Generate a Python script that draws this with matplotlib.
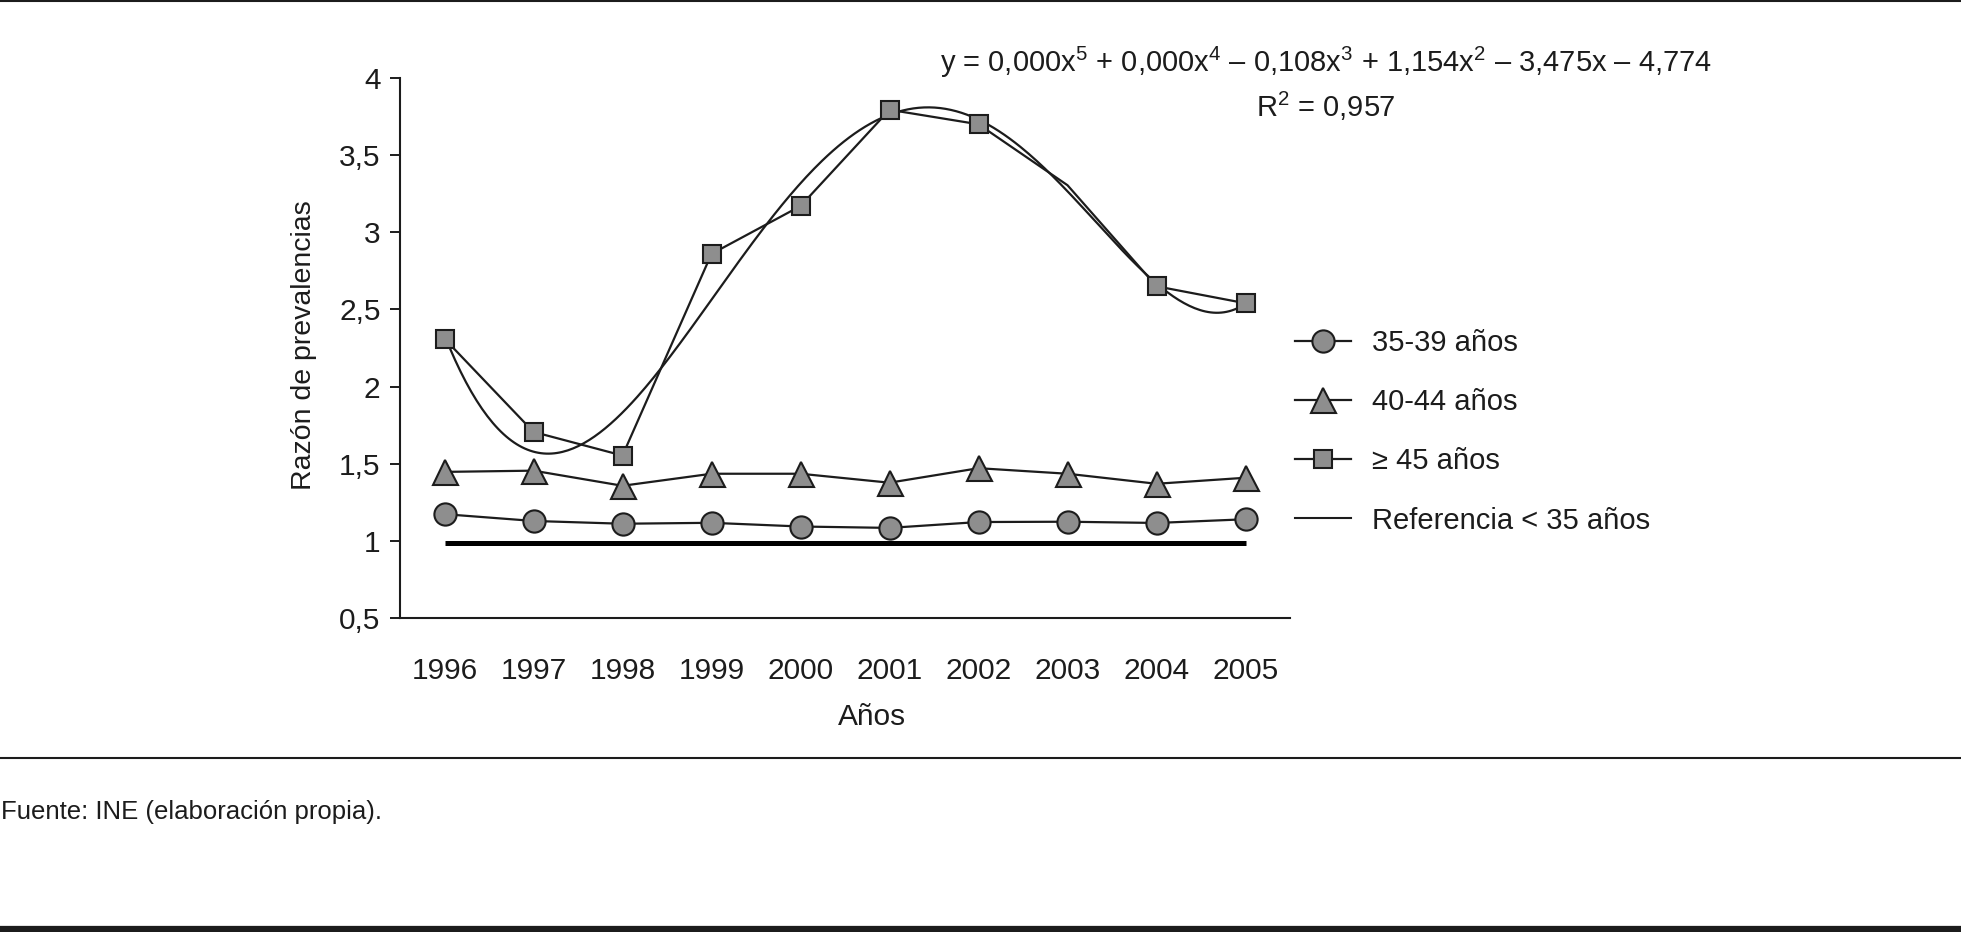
import numpy as np
import matplotlib
matplotlib.use("Agg")
import matplotlib.pyplot as plt
from matplotlib.lines import Line2D

# ---- data ----
years = ["1996", "1997", "1998", "1999", "2000", "2001", "2002", "2003", "2004", "2005"]
r35_39 = [1.173, 1.129, 1.111, 1.117, 1.093, 1.084, 1.122, 1.124, 1.116, 1.140]
r40_44 = [1.447, 1.455, 1.357, 1.435, 1.435, 1.377, 1.471, 1.435, 1.370, 1.409]
r45 = [2.31, 1.706, 1.553, 2.86, 3.17, 3.794, 3.70, 3.305, 2.65, 2.54]
ref_value = [0.985] * 10
yticks = [0.5, 1, 1.5, 2, 2.5, 3, 3.5, 4]
ytick_labels = ["0,5", "1", "1,5", "2", "2,5", "3", "3,5", "4"]
legend_labels = ["35-39 años", "40-44 años", "\u2265 45 años", "Referencia < 35 años"]

FAM = ["Liberation Sans", "DejaVu Sans"]
plt.rcParams["font.family"] = FAM
plt.rcParams["mathtext.fontset"] = "custom"
plt.rcParams["mathtext.rm"] = "Liberation Sans"

W, H = 1961, 932
fig = plt.figure(figsize=(W / 100, H / 100), dpi=100)
ax = fig.add_axes([400 / W, 1 - 618 / H, 890 / W, (618 - 78) / H])

x = np.arange(len(years))
ink = "#1c1c1c"
face = "#8e8e8e"
FS = 21.5

ax.plot(x, ref_value, color="black", lw=3.6, solid_capstyle="butt", zorder=2)
ax.plot(x, r35_39, color=ink, lw=1.6, marker="o", ms=16, mfc=face, mec=ink, mew=1.5, zorder=3)
ax.plot(x, r40_44, color=ink, lw=1.6, marker="^", ms=18, mfc=face, mec=ink, mew=1.5, zorder=3)
sq_marks = [i for i in range(len(years)) if years[i] != "2003"]
ax.plot(x, r45, color=ink, lw=1.6, marker="s", ms=13.5, mfc=face, mec=ink, mew=1.5,
        markevery=sq_marks, zorder=3)

# 5th-degree polynomial trend line of the >=45 series
coef = np.polyfit(x + 1, r45, 5)
xf = np.linspace(1, 10, 300)
ax.plot(xf - 1, np.polyval(coef, xf), color=ink, lw=1.6, zorder=2.5)

ax.set_xlim(-0.5, 9.5)
ax.set_ylim(0.5, 4)
ax.set_yticks(yticks)
ax.set_yticklabels(ytick_labels)
ax.set_xticks(x)
ax.set_xticklabels(years)
ax.tick_params(axis="y", direction="out", length=7, width=1.4, pad=7, labelsize=FS, colors=ink)
ax.tick_params(axis="x", length=0, pad=28, labelsize=FS, colors=ink)
for s in ["top", "right"]:
    ax.spines[s].set_visible(False)
for s in ["left", "bottom"]:
    ax.spines[s].set_linewidth(1.5)
    ax.spines[s].set_color(ink)

ax.set_xlabel("Años", fontsize=FS, color=ink)
ax.xaxis.set_label_coords((872 - 400) / 890, -(717 - 618) / 540)
ax.xaxis.label.set_va("center")
ax.set_ylabel("Razón de prevalencias", fontsize=20.5, color=ink)
ax.yaxis.set_label_coords(-(400 - 304) / 890, (618 - 345) / 540)
ax.yaxis.label.set_va("center")

# equation
fig.text(1326 / W, 1 - 62 / H,
         r"y = 0,000$\mathregular{x^5}$ + 0,000$\mathregular{x^4}$ – 0,108$\mathregular{x^3}$ + "
         r"1,154$\mathregular{x^2}$ – 3,475x – 4,774",
         ha="center", va="center", fontsize=21, color=ink)
fig.text(1326 / W, 1 - 106 / H, r"R$\mathregular{^2}$ = 0,957",
         ha="center", va="center", fontsize=21, color=ink)

# legend
handles = [
    Line2D([], [], color=ink, lw=1.6, marker="o", ms=16, mfc=face, mec=ink, mew=1.5),
    Line2D([], [], color=ink, lw=1.6, marker="^", ms=18, mfc=face, mec=ink, mew=1.5),
    Line2D([], [], color=ink, lw=1.6, marker="s", ms=13.5, mfc=face, mec=ink, mew=1.5),
    Line2D([], [], color=ink, lw=1.5),
]
leg = fig.legend(handles, legend_labels, loc="upper left",
                 bbox_to_anchor=(1295 / W, 1 - 329 / H), frameon=False,
                 fontsize=21, handlelength=1.93, handletextpad=0.7,
                 labelspacing=1.07, borderpad=0, borderaxespad=0, numpoints=1)
for t in leg.get_texts():
    t.set_color(ink)

# frame lines and source
fig.add_artist(Line2D([0, 1], [1 - 1 / H, 1 - 1 / H], color=ink, lw=1.5))
fig.add_artist(Line2D([0, 1], [1 - 758 / H, 1 - 758 / H], color=ink, lw=1.5))
fig.add_artist(Line2D([0, 1], [3 / H, 3 / H], color=ink, lw=4.5))
fig.text(1 / W, 1 - 812 / H, "Fuente: INE (elaboración propia).",
         ha="left", va="center", fontsize=18.5, color=ink)

fig.savefig("out.png", dpi=100)
